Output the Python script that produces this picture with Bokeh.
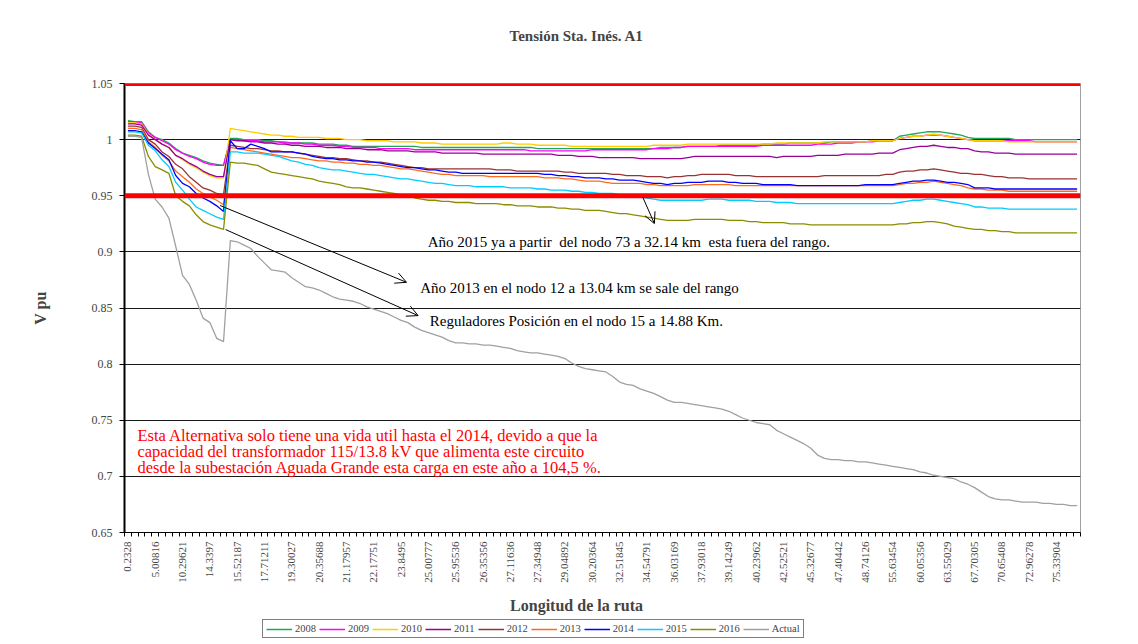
import math
from bokeh.plotting import figure
from bokeh.layouts import column
from bokeh.models import (FixedTicker, Span, Legend, LegendItem, Label,
                          Arrow, OpenHead, Range1d, NumeralTickFormatter)
from bokeh.embed import file_html
from bokeh.resources import INLINE

TITLE = "Tensión Sta. Inés. A1"
X_TITLE = "Longitud de la ruta"
Y_TITLE = "V pu"

# node positions along the route (category index) and the labelled km values
NODE = list(range(140))
TICK_POS = list(range(0, 140, 4))
TICK_LABELS = ["0.2328", "5.00816", "10.29621", "14.3397", "15.52187", "17.71211",
               "19.30027", "20.35688", "21.17957", "22.17751", "23.8495", "25.00777",
               "25.95536", "26.35356", "27.11636", "27.34948", "29.04892", "30.20364",
               "32.51845", "34.54791", "36.03169", "37.93018", "39.14249", "40.23962",
               "42.52521", "45.32677", "47.40442", "48.74126", "55.63454", "60.05356",
               "63.55029", "67.70305", "70.65408", "72.96278", "75.33904"]

LIMITS = [0.95, 1.05]

V2008 = [1.017, 1.016, 1.016, 1.007, 1.002, 1.000, 0.997, 0.992, 0.988, 0.986, 0.984, 0.981, 0.979, 0.978, 0.977,
         1.001, 1.001, 1.000, 1.000, 1.000, 0.999, 0.999, 0.998, 0.998, 0.997,
         0.997, 0.997, 0.997, 0.996, 0.996, 0.996, 0.995, 0.995, 0.994, 0.994,
         0.994, 0.994, 0.994, 0.994, 0.994, 0.994, 0.994, 0.994, 0.993, 0.993,
         0.993, 0.993, 0.993, 0.993, 0.993, 0.993, 0.993, 0.993, 0.993, 0.993,
         0.993, 0.993, 0.993, 0.993, 0.993, 0.992, 0.992, 0.992, 0.992, 0.992,
         0.992, 0.992, 0.992, 0.992, 0.992, 0.992, 0.992, 0.992, 0.992, 0.992,
         0.992, 0.992, 0.992, 0.993, 0.993, 0.993, 0.993, 0.994, 0.994, 0.994,
         0.994, 0.994, 0.995, 0.995, 0.995, 0.995, 0.995, 0.995, 0.996, 0.996,
         0.996, 0.996, 0.997, 0.997, 0.997, 0.997, 0.997, 0.997, 0.998, 0.998,
         0.998, 0.998, 0.998, 0.998, 0.999, 0.999, 0.999, 0.999, 1.003, 1.004,
         1.005, 1.006, 1.007, 1.007, 1.007, 1.006, 1.005, 1.004, 1.002, 1.001,
         1.001, 1.001, 1.001, 1.001, 1.001, 1.000, 1.000, 1.000, 1.000, 1.000,
         1.000, 1.000, 1.000, 1.000, 1.000]

V2009 = [1.016, 1.016, 1.015, 1.006, 1.002, 0.999, 0.996, 0.991, 0.988, 0.985, 0.983, 0.980, 0.978, 0.977, 0.977,
         1.000, 1.000, 0.999, 0.999, 0.999, 0.998, 0.998, 0.998, 0.997, 0.997,
         0.997, 0.996, 0.996, 0.995, 0.995, 0.995, 0.994, 0.994, 0.993, 0.993,
         0.993, 0.993, 0.992, 0.992, 0.992, 0.992, 0.992, 0.991, 0.991, 0.991,
         0.991, 0.991, 0.991, 0.991, 0.991, 0.991, 0.991, 0.991, 0.991, 0.991,
         0.991, 0.991, 0.991, 0.991, 0.990, 0.990, 0.990, 0.990, 0.990, 0.990,
         0.990, 0.990, 0.990, 0.991, 0.991, 0.991, 0.991, 0.991, 0.991, 0.991,
         0.991, 0.991, 0.992, 0.992, 0.992, 0.993, 0.993, 0.994, 0.994, 0.994,
         0.994, 0.994, 0.994, 0.994, 0.994, 0.994, 0.994, 0.994, 0.995, 0.995,
         0.995, 0.995, 0.995, 0.995, 0.995, 0.995, 0.996, 0.996, 0.996, 0.997,
         0.997, 0.997, 0.998, 0.998, 0.998, 0.999, 0.999, 0.999, 1.001, 1.002,
         1.003, 1.003, 1.004, 1.004, 1.004, 1.003, 1.002, 1.001, 1.000, 0.999,
         0.999, 0.999, 0.999, 0.999, 0.999, 0.999, 0.999, 0.999, 0.998, 0.998,
         0.998, 0.998, 0.998, 0.998, 0.998]

V2010 = [1.015, 1.015, 1.014, 1.005, 1.000, 0.996, 0.993, 0.986, 0.982, 0.978, 0.975, 0.971, 0.968, 0.966, 0.966,
         1.010, 1.009, 1.008, 1.007, 1.006, 1.005, 1.004, 1.004, 1.003, 1.003,
         1.002, 1.002, 1.002, 1.002, 1.001, 1.001, 1.001, 1.000, 1.000, 1.000,
         0.999, 0.999, 0.999, 0.999, 0.998, 0.998, 0.998, 0.998, 0.997, 0.997,
         0.997, 0.996, 0.996, 0.996, 0.996, 0.996, 0.996, 0.996, 0.996, 0.996,
         0.997, 0.997, 0.996, 0.996, 0.996, 0.995, 0.995, 0.995, 0.995, 0.995,
         0.994, 0.994, 0.994, 0.994, 0.994, 0.994, 0.994, 0.994, 0.994, 0.994,
         0.994, 0.994, 0.995, 0.995, 0.995, 0.995, 0.995, 0.996, 0.996, 0.996,
         0.996, 0.996, 0.996, 0.996, 0.996, 0.996, 0.996, 0.996, 0.996, 0.996,
         0.997, 0.997, 0.997, 0.997, 0.997, 0.997, 0.997, 0.998, 0.998, 0.998,
         0.998, 0.998, 0.998, 0.998, 0.999, 0.999, 0.999, 0.999, 1.001, 1.002,
         1.003, 1.003, 1.004, 1.005, 1.004, 1.003, 1.002, 1.001, 1.000, 0.999,
         0.999, 0.999, 0.999, 0.999, 0.998, 0.998, 0.998, 0.998, 0.998, 0.998,
         0.998, 0.998, 0.998, 0.998, 0.998]

V2011 = [1.014, 1.014, 1.013, 1.004, 1.000, 0.996, 0.993, 0.986, 0.983, 0.979, 0.976, 0.972, 0.969, 0.967, 0.967,
         1.000, 0.999, 0.999, 0.998, 0.998, 0.997, 0.997, 0.996, 0.996, 0.995,
         0.995, 0.994, 0.994, 0.994, 0.993, 0.993, 0.993, 0.992, 0.992, 0.992,
         0.991, 0.991, 0.991, 0.990, 0.990, 0.990, 0.990, 0.989, 0.989, 0.989,
         0.989, 0.988, 0.988, 0.988, 0.988, 0.988, 0.988, 0.987, 0.987, 0.987,
         0.987, 0.987, 0.987, 0.987, 0.987, 0.987, 0.987, 0.987, 0.986, 0.986,
         0.986, 0.985, 0.985, 0.985, 0.984, 0.984, 0.984, 0.984, 0.984, 0.984,
         0.983, 0.983, 0.983, 0.983, 0.983, 0.983, 0.983, 0.984, 0.985, 0.985,
         0.985, 0.985, 0.985, 0.985, 0.985, 0.985, 0.985, 0.985, 0.985, 0.985,
         0.984, 0.985, 0.985, 0.985, 0.985, 0.985, 0.986, 0.986, 0.986, 0.986,
         0.987, 0.987, 0.987, 0.987, 0.987, 0.988, 0.988, 0.988, 0.991, 0.992,
         0.993, 0.994, 0.994, 0.995, 0.994, 0.993, 0.993, 0.992, 0.992, 0.990,
         0.989, 0.989, 0.988, 0.988, 0.988, 0.987, 0.987, 0.987, 0.987, 0.987,
         0.987, 0.987, 0.987, 0.987, 0.987]

V2012 = [1.012, 1.012, 1.011, 1.000, 0.996, 0.989, 0.985, 0.978, 0.974, 0.967, 0.962, 0.957, 0.955, 0.952, 0.951,
         0.995, 0.994, 0.993, 0.992, 0.992, 0.991, 0.990, 0.990, 0.989, 0.989,
         0.988, 0.987, 0.986, 0.985, 0.984, 0.984, 0.983, 0.983, 0.982, 0.981,
         0.981, 0.980, 0.980, 0.979, 0.978, 0.977, 0.976, 0.975, 0.975, 0.974,
         0.974, 0.974, 0.974, 0.974, 0.974, 0.974, 0.974, 0.974, 0.974, 0.973,
         0.973, 0.973, 0.972, 0.972, 0.972, 0.972, 0.972, 0.972, 0.972, 0.971,
         0.971, 0.970, 0.970, 0.970, 0.970, 0.970, 0.969, 0.969, 0.968, 0.968,
         0.968, 0.967, 0.967, 0.967, 0.966, 0.967, 0.967, 0.968, 0.968, 0.969,
         0.969, 0.969, 0.969, 0.969, 0.968, 0.968, 0.968, 0.967, 0.967, 0.967,
         0.967, 0.967, 0.967, 0.967, 0.967, 0.967, 0.967, 0.968, 0.968, 0.968,
         0.968, 0.968, 0.968, 0.968, 0.968, 0.968, 0.969, 0.969, 0.971, 0.972,
         0.972, 0.973, 0.973, 0.974, 0.973, 0.972, 0.971, 0.970, 0.970, 0.969,
         0.969, 0.968, 0.967, 0.967, 0.966, 0.966, 0.966, 0.965, 0.965, 0.965,
         0.965, 0.965, 0.965, 0.965, 0.965]

V2013 = [1.010, 1.010, 1.009, 0.998, 0.993, 0.986, 0.981, 0.972, 0.967, 0.962, 0.956, 0.952, 0.949, 0.946, 0.942,
         0.993, 0.992, 0.991, 0.990, 0.989, 0.988, 0.987, 0.986, 0.985, 0.984,
         0.984, 0.983, 0.982, 0.981, 0.981, 0.980, 0.980, 0.979, 0.979, 0.978,
         0.978, 0.977, 0.977, 0.976, 0.975, 0.974, 0.974, 0.973, 0.972, 0.971,
         0.970, 0.969, 0.969, 0.968, 0.968, 0.968, 0.968, 0.968, 0.967, 0.967,
         0.967, 0.967, 0.967, 0.967, 0.967, 0.967, 0.966, 0.966, 0.966, 0.965,
         0.965, 0.964, 0.963, 0.963, 0.963, 0.962, 0.961, 0.961, 0.961, 0.961,
         0.961, 0.960, 0.960, 0.959, 0.959, 0.959, 0.959, 0.959, 0.960, 0.960,
         0.960, 0.960, 0.960, 0.960, 0.959, 0.959, 0.959, 0.959, 0.959, 0.959,
         0.959, 0.959, 0.959, 0.959, 0.959, 0.959, 0.959, 0.959, 0.959, 0.959,
         0.959, 0.959, 0.959, 0.959, 0.959, 0.959, 0.959, 0.959, 0.960, 0.961,
         0.961, 0.962, 0.962, 0.963, 0.962, 0.961, 0.960, 0.959, 0.957, 0.956,
         0.956, 0.955, 0.955, 0.955, 0.954, 0.954, 0.954, 0.954, 0.954, 0.954,
         0.954, 0.954, 0.954, 0.954, 0.954]

V2014 = [1.008, 1.008, 1.007, 0.997, 0.992, 0.987, 0.982, 0.968, 0.961, 0.958, 0.952, 0.948, 0.945, 0.941, 0.936,
         0.999, 0.992, 0.992, 0.996, 0.994, 0.992, 0.989, 0.989, 0.989, 0.989,
         0.988, 0.987, 0.985, 0.984, 0.983, 0.983, 0.982, 0.982, 0.981, 0.981,
         0.980, 0.980, 0.979, 0.978, 0.977, 0.976, 0.975, 0.975, 0.974, 0.973,
         0.973, 0.972, 0.971, 0.971, 0.970, 0.970, 0.970, 0.970, 0.970, 0.970,
         0.970, 0.970, 0.970, 0.970, 0.970, 0.970, 0.969, 0.969, 0.968, 0.968,
         0.967, 0.967, 0.966, 0.966, 0.966, 0.965, 0.965, 0.964, 0.964, 0.964,
         0.963, 0.962, 0.961, 0.961, 0.960, 0.961, 0.961, 0.962, 0.962, 0.962,
         0.963, 0.963, 0.963, 0.962, 0.962, 0.961, 0.961, 0.961, 0.960, 0.960,
         0.960, 0.960, 0.960, 0.959, 0.959, 0.959, 0.959, 0.959, 0.959, 0.959,
         0.959, 0.959, 0.959, 0.960, 0.960, 0.960, 0.960, 0.960, 0.961, 0.962,
         0.963, 0.963, 0.964, 0.964, 0.963, 0.962, 0.962, 0.961, 0.960, 0.957,
         0.957, 0.957, 0.956, 0.956, 0.956, 0.956, 0.956, 0.956, 0.956, 0.956,
         0.956, 0.956, 0.956, 0.956, 0.956]

V2015 = [1.007, 1.007, 1.006, 0.995, 0.990, 0.982, 0.976, 0.962, 0.955, 0.947, 0.940, 0.937, 0.934, 0.931, 0.929,
         0.989, 0.989, 0.988, 0.988, 0.988, 0.987, 0.986, 0.985, 0.983, 0.981,
         0.980, 0.978, 0.977, 0.975, 0.974, 0.973, 0.973, 0.972, 0.971, 0.970,
         0.969, 0.969, 0.968, 0.967, 0.966, 0.965, 0.965, 0.964, 0.963, 0.962,
         0.961, 0.961, 0.960, 0.959, 0.959, 0.959, 0.958, 0.958, 0.958, 0.958,
         0.958, 0.957, 0.957, 0.957, 0.957, 0.956, 0.956, 0.955, 0.955, 0.955,
         0.954, 0.954, 0.953, 0.953, 0.952, 0.952, 0.952, 0.951, 0.950, 0.950,
         0.949, 0.948, 0.947, 0.946, 0.946, 0.946, 0.946, 0.946, 0.946, 0.946,
         0.947, 0.947, 0.947, 0.946, 0.946, 0.946, 0.946, 0.945, 0.945, 0.945,
         0.944, 0.944, 0.944, 0.943, 0.943, 0.943, 0.943, 0.943, 0.943, 0.943,
         0.943, 0.943, 0.943, 0.943, 0.943, 0.943, 0.943, 0.943, 0.944, 0.945,
         0.946, 0.946, 0.947, 0.947, 0.946, 0.945, 0.944, 0.943, 0.942, 0.940,
         0.940, 0.939, 0.939, 0.939, 0.938, 0.938, 0.938, 0.938, 0.938, 0.938,
         0.938, 0.938, 0.938, 0.938, 0.938]

V2016 = [1.004, 1.004, 1.003, 0.985, 0.976, 0.973, 0.970, 0.950, 0.945, 0.941, 0.933, 0.927, 0.924, 0.922, 0.920,
         0.980, 0.979, 0.979, 0.978, 0.977, 0.974, 0.971, 0.970, 0.969, 0.968,
         0.967, 0.966, 0.965, 0.963, 0.962, 0.961, 0.960, 0.958, 0.957, 0.957,
         0.956, 0.955, 0.954, 0.953, 0.952, 0.951, 0.950, 0.948, 0.947, 0.946,
         0.946, 0.945, 0.945, 0.944, 0.944, 0.944, 0.943, 0.943, 0.943, 0.943,
         0.942, 0.942, 0.941, 0.941, 0.941, 0.940, 0.940, 0.940, 0.939, 0.939,
         0.938, 0.938, 0.937, 0.937, 0.937, 0.936, 0.935, 0.934, 0.934, 0.933,
         0.932, 0.931, 0.930, 0.929, 0.928, 0.928, 0.928, 0.928, 0.929, 0.929,
         0.929, 0.929, 0.929, 0.928, 0.928, 0.928, 0.927, 0.927, 0.926, 0.926,
         0.926, 0.926, 0.925, 0.925, 0.925, 0.924, 0.924, 0.924, 0.924, 0.924,
         0.924, 0.924, 0.924, 0.924, 0.924, 0.924, 0.924, 0.924, 0.925, 0.925,
         0.926, 0.926, 0.927, 0.927, 0.926, 0.925, 0.923, 0.922, 0.921, 0.920,
         0.920, 0.919, 0.919, 0.918, 0.918, 0.917, 0.917, 0.917, 0.917, 0.917,
         0.917, 0.917, 0.917, 0.917, 0.917]

ACTUAL = [1.003, 1.003, 1.002, 0.969, 0.947, 0.940, 0.930, 0.905, 0.879, 0.871, 0.857, 0.841, 0.837, 0.823, 0.820,
          0.910, 0.909, 0.906, 0.903, 0.896, 0.890, 0.884, 0.883, 0.882, 0.877,
          0.873, 0.869, 0.868, 0.866, 0.863, 0.860, 0.858, 0.857, 0.856, 0.854,
          0.851, 0.849, 0.847, 0.845, 0.842, 0.839, 0.837, 0.833, 0.830, 0.828,
          0.826, 0.824, 0.821, 0.819, 0.819, 0.818, 0.818, 0.817, 0.817, 0.816,
          0.815, 0.814, 0.812, 0.811, 0.810, 0.810, 0.809, 0.808, 0.807, 0.805,
          0.801, 0.798, 0.796, 0.795, 0.794, 0.793, 0.789, 0.784, 0.782, 0.781,
          0.778, 0.776, 0.774, 0.771, 0.768, 0.766, 0.766, 0.765, 0.764, 0.763,
          0.762, 0.761, 0.760, 0.758, 0.755, 0.752, 0.750, 0.748, 0.747, 0.746,
          0.741, 0.738, 0.735, 0.732, 0.729, 0.725, 0.719, 0.716, 0.715, 0.715,
          0.714, 0.714, 0.713, 0.713, 0.712, 0.711, 0.710, 0.709, 0.708, 0.707,
          0.706, 0.704, 0.703, 0.701, 0.700, 0.699, 0.698, 0.695, 0.693, 0.690,
          0.686, 0.682, 0.680, 0.679, 0.679, 0.678, 0.677, 0.677, 0.677, 0.676,
          0.676, 0.675, 0.675, 0.674, 0.674]

SERIES = [("2008", V2008, "#1FA855"), ("2009", V2009, "#FF00FF"), ("2010", V2010, "#FFCC00"),
          ("2011", V2011, "#990099"), ("2012", V2012, "#993333"), ("2013", V2013, "#FF6A1A"),
          ("2014", V2014, "#0000FF"), ("2015", V2015, "#00CCFF"), ("2016", V2016, "#8C8C00"),
          ("Actual", ACTUAL, "#A0A0A0")]

NOTE_2015 = "Año 2015 ya a partir\u00a0 del nodo 73 a 32.14 km\u00a0 esta fuera del rango."
NOTE_2013 = "Año 2013 en el nodo 12 a 13.04 km se sale del rango"
NOTE_REG = "Reguladores Posición en el nodo 15 a 14.88 Km."
NOTE_RED = ["Esta Alternativa solo tiene una vida util hasta el 2014, devido a que la",
            "capacidad del transformador  115/13.8 kV que alimenta este circuito",
            "desde la subestación Aguada Grande esta carga en este año a 104,5 %."]

FONT = "Liberation Serif"
X_RANGE = Range1d(-0.5, 139.5)
TEXT_CENTER_X = 65.7   # node position under which the chart and axis titles are centred

# ---- title strip
tt = figure(width=1138, height=50, output_backend="svg", toolbar_location=None,
            x_axis_type=None, y_axis_type=None, x_range=X_RANGE, y_range=Range1d(0, 50),
            min_border_left=0, min_border_right=0, min_border_top=0, min_border_bottom=0,
            background_fill_color="white", border_fill_color="white")
tt.outline_line_color = None
tt.grid.visible = False
tt.add_layout(Label(x=TEXT_CENTER_X, y=15, text=TITLE, text_font=FONT, text_font_size="15px",
                    text_font_style="bold", text_align="center", text_baseline="middle"))

# ---- main chart
p = figure(width=1138, height=540, output_backend="svg", toolbar_location=None,
           x_range=X_RANGE, y_range=Range1d(0.65, 1.05),
           min_border_left=124, min_border_right=58, min_border_top=33, min_border_bottom=58,
           background_fill_color="white", border_fill_color="white")

p.outline_line_color = "#A0A0A0"
p.outline_line_width = 1

# y axis
p.yaxis.ticker = FixedTicker(ticks=[0.65, 0.7, 0.75, 0.8, 0.85, 0.9, 0.95, 1.0, 1.05])
p.yaxis.formatter = NumeralTickFormatter(format="0.[00]")
p.yaxis.axis_line_width = 2
p.yaxis.axis_line_color = "black"
p.yaxis.major_tick_out = 5
p.yaxis.major_tick_in = 0
p.yaxis.minor_tick_line_color = None
p.yaxis.major_label_text_font = FONT
p.yaxis.major_label_text_font_size = "12px"
p.yaxis.major_label_standoff = 7
p.yaxis.axis_label = Y_TITLE
p.yaxis.axis_label_text_font = FONT
p.yaxis.axis_label_text_font_size = "16px"
p.yaxis.axis_label_text_font_style = "bold"
p.yaxis.axis_label_standoff = 40

# x axis
p.xaxis.ticker = FixedTicker(ticks=TICK_POS, minor_ticks=[i - 0.5 for i in range(len(NODE) + 1)])
p.xaxis.major_label_overrides = {t: lab for t, lab in zip(TICK_POS, TICK_LABELS)}
p.xaxis.major_label_orientation = math.pi / 2
p.xaxis.major_label_text_font = FONT
p.xaxis.major_label_text_font_size = "11px"
p.xaxis.major_tick_line_color = None
p.xaxis.major_tick_out = 4
p.xaxis.major_tick_in = 0
p.xaxis.minor_tick_out = 4
p.xaxis.minor_tick_in = 0
p.xaxis.minor_tick_line_color = "black"
p.xaxis.axis_line_color = "black"
p.xaxis.major_label_standoff = 5

p.xgrid.visible = False
p.ygrid.ticker = FixedTicker(ticks=[0.65, 0.7, 0.75, 0.8, 0.85, 0.9, 0.95, 1.0, 1.05])
p.ygrid.grid_line_color = "#1a1a1a"
p.ygrid.grid_line_width = 1

for name, vals, color in SERIES:
    p.line(NODE, vals, line_color=color, line_width=1.3)

for lim in LIMITS:
    p.add_layout(Span(location=lim, dimension="width", line_color="#FF0000", line_width=5))

# annotations
def note(x, y, text, color="black", size="15px"):
    p.add_layout(Label(x=x, y=y, text=text, text_font=FONT, text_font_size=size,
                       text_color=color, text_baseline="middle", text_align="left"))

note(43.9, 0.9092, NOTE_2015)
note(42.8, 0.8677, NOTE_2013)
note(44.2, 0.8388, NOTE_REG)
for i, line in enumerate(NOTE_RED):
    note(1.4, 0.7363 - i * 0.0143, line, color="#FF0000", size="16.5px")

for xs, ys, xe, ye in [(75.4, 0.9487, 77.1, 0.9252),
                       (13.5, 0.9413, 40.8, 0.8729),
                       (14.3, 0.9199, 42.5, 0.8432)]:
    p.add_layout(Arrow(end=OpenHead(size=11, line_width=1, line_color="black"),
                       x_start=xs, y_start=ys, x_end=xe, y_end=ye,
                       line_color="black", line_width=1))

# ---- x title and legend strip under the chart
lg = figure(width=1138, height=54, output_backend="svg", toolbar_location=None,
            x_axis_type=None, y_axis_type=None, x_range=X_RANGE, y_range=Range1d(0, 54),
            min_border_left=0, min_border_right=0, min_border_top=0, min_border_bottom=0,
            background_fill_color="white", border_fill_color="white")
lg.outline_line_color = None
lg.grid.visible = False
lg.extra_y_ranges = {"hidden": Range1d(10, 11)}
lg.add_layout(Label(x=TEXT_CENTER_X, y=39, text=X_TITLE, text_font=FONT, text_font_size="16px",
                    text_font_style="bold", text_align="center", text_baseline="middle"))
items = []
for name, vals, color in SERIES:
    r = lg.line(NODE, vals, line_color=color, line_width=1.5, y_range_name="hidden")
    items.append(LegendItem(label=name, renderers=[r]))

legend = Legend(items=items, orientation="horizontal", location=(138, 6),
                label_text_font=FONT, label_text_font_size="10.5px",
                glyph_width=26, glyph_height=10, label_standoff=3, spacing=3,
                padding=3, margin=0, border_line_color="black", border_line_width=1,
                label_height=10, background_fill_alpha=1.0)
lg.add_layout(legend)

layout = column(tt, p, lg)
open("out.html", "w").write(file_html(layout, INLINE))
